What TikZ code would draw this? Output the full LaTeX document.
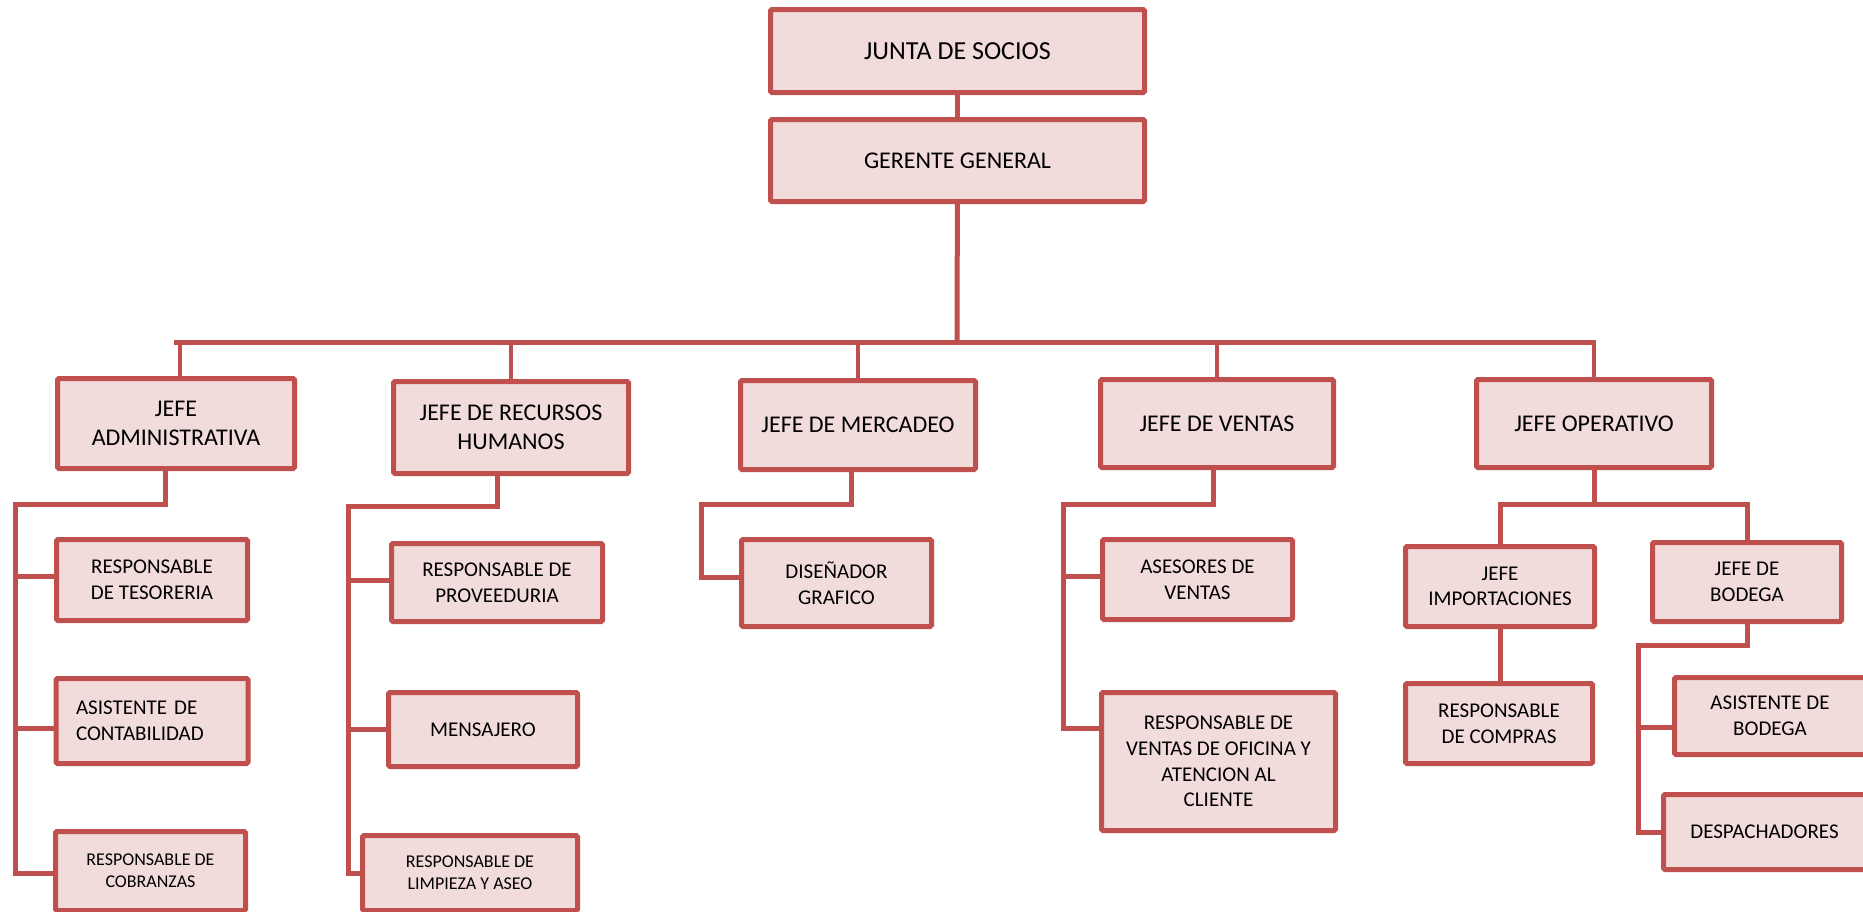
\documentclass[tikz,border=0pt]{standalone}
\usepackage{fontspec}
\setmainfont{Carlito}
\usepackage{tikz}
\usetikzlibrary{positioning}

\definecolor{boxred}{HTML}{C0504D}
\definecolor{boxpink}{HTML}{F2DCDB}

\begin{document}
\begin{tikzpicture}[
    x=1pt, y=-1pt,
    box/.style={draw=boxred, fill=boxpink, line width=5pt, rounded corners=1.5pt, align=center, inner sep=2pt, font=\fontsize{21}{25.6}\selectfont},
    headbox/.style={box, font=\fontsize{24}{29.3}\selectfont},
    smallbox/.style={box, font=\fontsize{18}{22}\selectfont},
    link/.style={draw=boxred, line width=5pt},
    stub/.style={draw=boxred, line width=4pt}
]
\useasboundingbox (0,0) rectangle (1863,911);

% top of the chart
\node[headbox, font=\fontsize{26}{31.7}\selectfont, minimum width=374pt, minimum height=83pt] (junta) at (957.5,51) {JUNTA DE SOCIOS};
\node[headbox, minimum width=374pt, minimum height=82pt] (gerente) at (957.5,160.5) {GERENTE GENERAL};

% jefes
\node[headbox, minimum width=237pt, minimum height=90pt] (admin) at (176,423.5) {JEFE\\ADMINISTRATIVA};
\node[headbox, minimum width=235pt, minimum height=92pt] (rrhh) at (511,427.5) {JEFE DE RECURSOS\\HUMANOS};
\node[headbox, minimum width=235pt, minimum height=89pt] (mercadeo) at (858,425) {JEFE DE MERCADEO};
\node[headbox, minimum width=233pt, minimum height=88pt] (ventas) at (1217,423.5) {JEFE DE VENTAS};
\node[headbox, minimum width=235pt, minimum height=88pt] (operativo) at (1594,423.5) {JEFE OPERATIVO};

% administrativa
\node[box, minimum width=191pt, minimum height=81pt] (tesoreria) at (152,580) {RESPONSABLE\\DE TESORERIA};
\node[box, align=left, text width=152pt, inner xsep=20pt, minimum height=85pt] (contab) at (152,721) {ASISTENTE DE\\CONTABILIDAD};
\node[smallbox, minimum width=190pt, minimum height=79pt] (cobranzas) at (150.5,871) {RESPONSABLE DE\\COBRANZAS};

% recursos humanos
\node[box, minimum width=211pt, minimum height=78pt] (proveeduria) at (497,582.5) {RESPONSABLE DE\\PROVEEDURIA};
\node[box, minimum width=189pt, minimum height=74pt] (mensajero) at (483,729.5) {MENSAJERO};
\node[smallbox, minimum width=215pt, minimum height=75pt] (limpieza) at (470,873) {RESPONSABLE DE\\LIMPIEZA Y ASEO};

% mercadeo
\node[box, minimum width=190pt, minimum height=87pt] (disenador) at (836.5,583) {DISEÑADOR\\GRAFICO};

% ventas
\node[box, minimum width=190pt, minimum height=80pt] (asesores) at (1197.5,579.5) {ASESORES DE\\VENTAS};
\node[box, minimum width=234pt, minimum height=138pt] (ventasofi) at (1218.5,761.5) {RESPONSABLE DE\\VENTAS DE OFICINA Y\\ATENCION AL\\CLIENTE};

% operativo
\node[box, minimum width=189pt, minimum height=80pt] (importaciones) at (1500,586.5) {JEFE\\IMPORTACIONES};
\node[box, minimum width=189pt, minimum height=79pt] (bodega) at (1747,582) {JEFE DE\\BODEGA};
\node[box, minimum width=187pt, minimum height=80pt] (compras) at (1499,723.5) {RESPONSABLE\\DE COMPRAS};
\node[box, minimum width=191pt, minimum height=77pt] (asistbodega) at (1770,716) {ASISTENTE DE\\BODEGA};
\node[box, minimum width=202pt, minimum height=75pt] (despachadores) at (1764.5,832) {DESPACHADORES};

% corners of the lines
\coordinate (bus) at (957,342);
\coordinate (admspine) at (15,504);
\coordinate (rhspine) at (348,506);
\coordinate (mktspine) at (701,504);
\coordinate (venspine) at (1063,504);
\coordinate (opbus) at (1594,504);
\coordinate (bodspine) at (1638,645);

\draw[link] (junta) -- (gerente);
\draw[link] (gerente) -- (bus);
\draw[link] ([xshift=-2pt]admin.north |- bus) -- ([xshift=2pt]operativo.north |- bus);
\draw[stub] ([xshift=4pt]admin.north |- bus) -- ([xshift=4pt]admin.north);
\draw[stub] (rrhh.north |- bus) -- (rrhh.north);
\draw[stub] (mercadeo.north |- bus) -- (mercadeo.north);
\draw[stub] (ventas.north |- bus) -- (ventas.north);
\draw[stub] (operativo.north |- bus) -- (operativo.north);

\draw[link] ([xshift=-11pt]admin.south) |- (admspine) |- ([yshift=-2pt]cobranzas.west);
\draw[link] ([yshift=4pt]tesoreria.west -| admspine) -- ([yshift=4pt]tesoreria.west);
\draw[link] ([yshift=-7pt]contab.west -| admspine) -- ([yshift=-7pt]contab.west);

\draw[link] ([xshift=-14pt]rrhh.south) |- (rhspine) |- (limpieza.west);
\draw[link] ([yshift=2pt]proveeduria.west -| rhspine) -- ([yshift=2pt]proveeduria.west);
\draw[link] (mensajero.west -| rhspine) -- (mensajero.west);

\draw[link] ([xshift=-7pt]mercadeo.south) |- (mktspine) |- ([yshift=6pt]disenador.west);

\draw[link] ([xshift=-4pt]ventas.south) |- (venspine) |- ([yshift=33pt]ventasofi.west);
\draw[link] ([yshift=3pt]asesores.west -| venspine) -- ([yshift=3pt]asesores.west);

\draw[link] (operativo) -- (opbus);
\draw[link] (importaciones.north) |- (bodega.north |- opbus) -- (bodega.north);
\draw[link] (importaciones.south) -- (importaciones.south |- compras.north);

\draw[link] (bodega.south) |- (bodspine) |- (despachadores.west);
\draw[link] ([yshift=-11pt]asistbodega.west -| bodspine) -- ([yshift=-11pt]asistbodega.west);
\end{tikzpicture}
\end{document}
